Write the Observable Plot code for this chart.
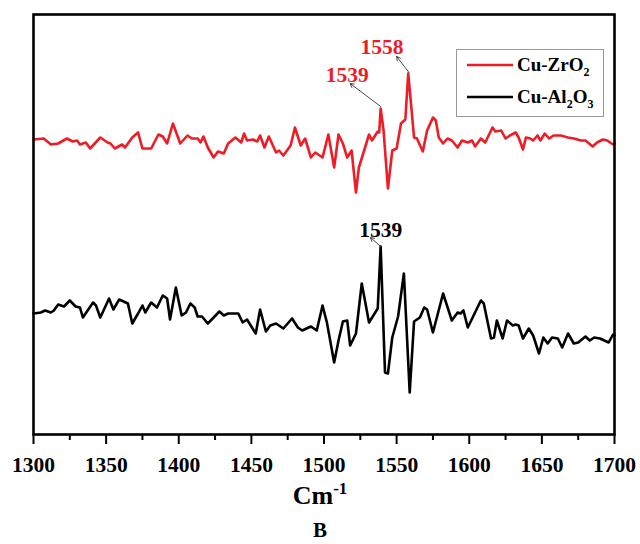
<!DOCTYPE html>
<html><head><meta charset="utf-8">
<script src="https://cdn.jsdelivr.net/npm/d3@7"></script>
<script src="https://cdn.jsdelivr.net/npm/@observablehq/plot@0.6"></script>
<style>
body{margin:0;background:#fff;}
#chart{width:640px;height:544px;}
</style>
</head><body><div id="chart"></div>
<script>
// Cu-ZrO2 spectrum (wavenumber, intensity a.u.)
const wnRed = [1300,1307,1312,1317,1323,1327,1330,1332,1336,1339,1346,1351,1353,1356,1361,1363,1368,1372,1375,1381,1386,1389,1392,1396,1401,1406,1409,1413,1415,1417,1420,1424,1427,1431,1434,1439,1443,1445,1447,1451,1454,1456,1459,1462,1467,1469,1472,1477,1480,1484,1487,1491,1494,1499,1503,1507,1510,1513,1516,1519,1522,1524,1527,1531,1533,1537,1538,1539,1541,1544,1547,1550,1553,1556,1558,1562,1564,1568,1571,1575,1577,1579,1582,1585,1588,1592,1595,1599,1602,1604,1608,1611,1616,1618,1622,1625,1628,1632,1634,1637,1639,1642,1644,1647,1649,1652,1655,1658,1663,1668,1672,1677,1680,1685,1688,1692,1695,1699,1700];
const intRed = [293,294,288,289,294,291,292,288,290,284,295,290,289,284,288,285,295,300,284,284,298,296,289,309,289,297,294,294,290,296,285,275,281,279,289,295,290,299,292,293,291,297,285,296,280,282,277,287,305,287,294,275,280,275,298,265,298,289,275,282,240,265,279,298,292,301,300,324,302,244,282,284,309,313,359,295,294,281,302,315,312,295,289,294,292,285,292,290,292,286,294,290,305,301,302,294,297,300,295,283,295,294,292,297,292,299,294,297,297,295,294,292,292,286,290,293,292,288,289];
// Cu-Al2O3 spectrum
const wnBlack = [1300,1305,1308,1312,1314,1317,1321,1325,1329,1332,1334,1341,1343,1346,1352,1355,1359,1365,1368,1372,1375,1377,1381,1385,1389,1392,1394,1398,1402,1405,1408,1411,1413,1416,1420,1424,1428,1431,1434,1437,1441,1444,1447,1453,1456,1460,1463,1467,1472,1478,1482,1485,1491,1495,1499,1502,1507,1510,1513,1516,1518,1522,1526,1531,1537,1539,1542,1544,1547,1551,1555,1559,1562,1566,1569,1571,1575,1582,1588,1592,1594,1596,1599,1604,1608,1610,1615,1617,1619,1623,1626,1630,1632,1634,1637,1641,1644,1648,1651,1654,1657,1661,1664,1668,1672,1675,1680,1683,1686,1690,1696,1699,1700];
const intBlack = [119,120,122,120,122,128,126,132,126,125,115,130,127,115,134,123,133,129,109,119,127,120,130,125,137,134,113,145,117,120,129,125,116,116,109,115,121,117,119,119,119,110,113,99,123,101,107,109,104,114,105,102,106,102,127,110,70,92,111,112,87,99,149,110,124,186,60,59,95,116,159,40,111,115,125,123,100,139,112,120,119,122,105,120,132,129,94,95,112,94,112,107,108,107,94,104,97,79,95,89,95,94,85,99,89,90,96,92,95,94,90,98,97];

// x axis ticks
const majorTicks = [1300,1350,1400,1450,1500,1550,1600,1650,1700];
const minorTicks = [1325,1375,1425,1475,1525,1575,1625,1675];

// peak annotations
const annLabel = ["1558","1539","1539"];
const annColor = ["#ee1c25","#ee1c25","#000000"];
const annPeakW = [1558.5,1539,1539];
const annPeakI = [360,326,186];
const annHeadW = [1550,1518,1532];
const annHeadI = [376,349,195];
const annTextW = [1540,1516,1539];
const annTextI = [385,357,202];

const seriesNames = ["Cu-ZrO2","Cu-Al2O3"];
const seriesColors = ["#ee1c25","#000000"];

const red = wnRed.map((w,i)=>({w, v:intRed[i]}));
const black = wnBlack.map((w,i)=>({w, v:intBlack[i]}));
const ann = annLabel.map((t,i)=>({t, c:annColor[i], pw:annPeakW[i], pv:annPeakI[i], hw:annHeadW[i], hv:annHeadI[i], tw:annTextW[i], tv:annTextI[i]}));

const FONT = '"Liberation Serif","Times New Roman",serif';

const chart = Plot.plot({
  width: 640, height: 544,
  marginTop: 14, marginLeft: 33, marginRight: 26, marginBottom: 110,
  style: {fontFamily: FONT, background: "#fff", overflow: "visible"},
  x: {type: "linear", domain: [1300,1700]},
  y: {type: "linear", domain: [-2,418], axis: null},
  marks: [
    Plot.line(red, {x:"w", y:"v", stroke: seriesColors[0], strokeWidth: 2.6, strokeLinejoin:"round"}),
    Plot.line(black, {x:"w", y:"v", stroke: seriesColors[1], strokeWidth: 2.6, strokeLinejoin:"round"}),
    Plot.arrow(ann, {x1:"pw", y1:"pv", x2:"hw", y2:"hv", stroke:"#333", strokeWidth:0.9, headLength:7}),
    Plot.text(ann, {x:"tw", y:"tv", text:"t", fill:"c", fontSize:21.5, fontWeight:"bold", lineAnchor:"middle", textAnchor:"middle"}),
    Plot.axisX({ticks: majorTicks, tickSize: 10, tickPadding: 12, tickFormat: d=>String(d), label: null, fontSize: 21.5, fontWeight: "bold", strokeWidth: 2, fill:"#000"}),
    Plot.axisX({ticks: minorTicks, tickSize: 6, tickFormat: () => "", label: null, strokeWidth: 2}),
    Plot.frame({stroke:"#000", strokeWidth: 2.6})
  ]
});

const svg = d3.select(chart);
// axis title Cm^-1
const t = svg.append("text").attr("x", 320).attr("y", 504).attr("text-anchor","middle")
  .attr("font-family", FONT).attr("font-weight","bold").attr("font-size", 26).attr("fill","#000");
t.append("tspan").text("Cm");
t.append("tspan").attr("dy", -10).attr("font-size", 17).text("-1");
// panel letter
svg.append("text").attr("x", 320).attr("y", 537).attr("text-anchor","middle")
  .attr("font-family", FONT).attr("font-weight","bold").attr("font-size", 21).attr("fill","#000").text("B");

// legend
const lg = svg.append("g");
lg.append("rect").attr("x",456.5).attr("y",49.5).attr("width",147).attr("height",67).attr("fill","#fff").attr("stroke","#999").attr("stroke-width",1);
const rows = [{y:65, parts:[["Cu-ZrO",0],["2",1]]},{y:97, parts:[["Cu-Al",0],["2",1],["O",0],["3",1]]}];
rows.forEach((r,i)=>{
  lg.append("line").attr("x1",467).attr("x2",513).attr("y1",r.y).attr("y2",r.y).attr("stroke",seriesColors[i]).attr("stroke-width",2.6);
  const tx = lg.append("text").attr("x",517).attr("y",r.y+6).attr("text-anchor","start").attr("font-family",FONT).attr("font-weight","bold").attr("font-size",19).attr("fill","#000");
  let sub = false;
  r.parts.forEach(([s,isSub])=>{
    const ts = tx.append("tspan").text(s);
    if (isSub && !sub) { ts.attr("dy",5).attr("font-size",12); sub = true; }
    else if (!isSub && sub) { ts.attr("dy",-5); sub = false; }
    else if (isSub) { ts.attr("font-size",12); }
  });
  tx.attr("aria-label", seriesNames[i]);
});

document.getElementById("chart").appendChild(chart);
</script>
</body></html>
